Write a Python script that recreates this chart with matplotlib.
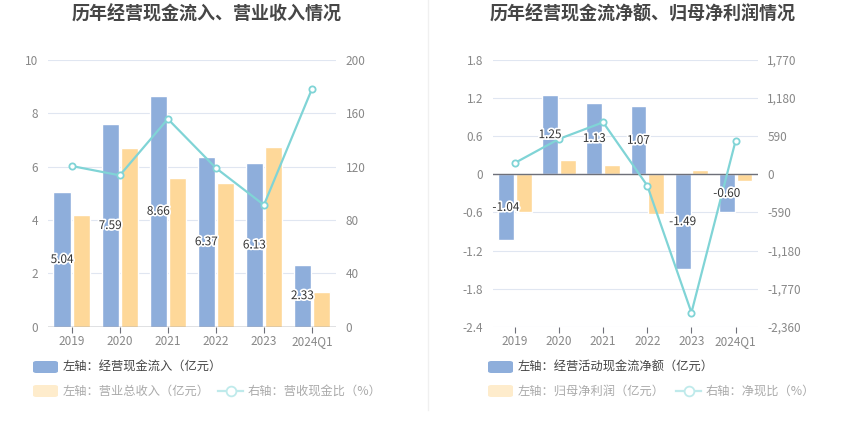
import matplotlib
matplotlib.use("Agg")
import matplotlib.pyplot as plt
import matplotlib.patheffects as pe
from matplotlib.lines import Line2D
from matplotlib.patches import FancyBboxPatch
from matplotlib.ticker import FuncFormatter

plt.rcParams["font.family"] = ["Noto Sans CJK SC", "DejaVu Sans"]

categories = ["2019", "2020", "2021", "2022", "2023", "2024Q1"]

# left chart
cash_inflow = [5.04, 7.59, 8.66, 6.37, 6.13, 2.33]       # 亿元
revenue = [4.19, 6.71, 5.58, 5.38, 6.73, 1.31]           # 亿元
cash_revenue_ratio = [120.5, 113.5, 155.8, 119.0, 91.3, 178.3]  # %

# right chart
op_cash_net = [-1.04, 1.25, 1.13, 1.07, -1.49, -0.60]    # 亿元
net_profit = [-0.59, 0.23, 0.14, -0.62, 0.07, -0.11]     # 亿元
cash_profit_ratio = [175, 547, 805, -175, -2142, 521]    # %

BLUE = "#8eaedb"
ORANGE = "#fed899"
TEAL = "#80d4d6"
GRID = "#e0e6f1"
AXIS = "#6e7079"
TICK = "#888888"
W, H = 850, 437


def px_axes(fig, x0, x1, y_top, y_bot):
    return fig.add_axes([x0 / W, 1 - y_bot / H, (x1 - x0) / W, (y_bot - y_top) / H])


def style(ax, ax2, ylim, yticks, ylim2, yticks2, fmt2):
    ax.set_xlim(-0.5, len(categories) - 0.5)
    ax.set_ylim(*ylim)
    ax.set_yticks(yticks)
    ax2.set_ylim(*ylim2)
    ax2.set_yticks(yticks2)
    ax2.yaxis.set_major_formatter(FuncFormatter(fmt2))
    ax.yaxis.set_major_formatter(FuncFormatter(lambda v, p: f"{v:g}"))
    ax.grid(axis="y", color=GRID, linewidth=0.8)
    ax.set_axisbelow(True)
    for a in (ax, ax2):
        for s in a.spines.values():
            s.set_visible(False)
        a.tick_params(axis="y", length=0, labelsize=8.5, labelcolor=TICK, pad=7)
    ax.set_xticks(range(len(categories)))
    ax.set_xticklabels(categories)
    ax.tick_params(axis="x", length=4, color=AXIS, labelsize=8.5, labelcolor=TICK, pad=2)
    ax.axhline(0, color=AXIS, linewidth=1, zorder=3)


def bar_labels(ax, top, x, vals):
    # labels live on the twin axes (drawn above the line) but use left-axis data coords
    for xi, v in zip(x, vals):
        top.text(xi, v / 2, f"{v:.2f}", ha="center", va="center", fontsize=8.5,
                 color="#333333", zorder=6, transform=ax.transData,
                 path_effects=[pe.withStroke(linewidth=2.5, foreground="white")])


fig = plt.figure(figsize=(W / 100, H / 100), dpi=100)
x = list(range(len(categories)))
xb = [i - 0.2 for i in x]
xo = [i + 0.2 for i in x]

# ---- left chart
ax = px_axes(fig, 47.7, 336, 60, 326.7)
ax2 = ax.twinx()
ax.bar(xb, cash_inflow, width=0.36, color=BLUE, edgecolor="white", linewidth=1, zorder=2)
ax.bar(xo, revenue, width=0.36, color=ORANGE, edgecolor="white", linewidth=1, zorder=2)
ax2.plot(x, cash_revenue_ratio, color=TEAL, linewidth=1.6, marker="o", markersize=4.5,
         markerfacecolor="white", markeredgecolor=TEAL, markeredgewidth=1.3, zorder=5)
style(ax, ax2, (0, 10), range(0, 11, 2), (0, 200), range(0, 201, 40), lambda v, p: f"{v:g}")
bar_labels(ax, ax2, xb, cash_inflow)

# ---- right chart
bx = px_axes(fig, 492.7, 757.7, 60, 326.7)
bx2 = bx.twinx()
bx.bar(xb, op_cash_net, width=0.36, color=BLUE, edgecolor="white", linewidth=1, zorder=2)
bx.bar(xo, net_profit, width=0.36, color=ORANGE, edgecolor="white", linewidth=1, zorder=2)
bx2.plot(x, cash_profit_ratio, color=TEAL, linewidth=1.6, marker="o", markersize=4.5,
         markerfacecolor="white", markeredgecolor=TEAL, markeredgewidth=1.3, zorder=5)
style(bx, bx2, (-2.4, 1.8), [-2.4, -1.8, -1.2, -0.6, 0, 0.6, 1.2, 1.8],
      (-2360, 1770), range(-2360, 1771, 590), lambda v, p: f"{v:,.0f}")
bar_labels(bx, bx2, xb, op_cash_net)

# titles
fig.text(207 / W, 1 - 14 / H, "历年经营现金流入、营业收入情况", ha="center", va="center",
         fontsize=13, fontweight="bold", color="#464646")
fig.text(643 / W, 1 - 14 / H, "历年经营现金流净额、归母净利润情况", ha="center", va="center",
         fontsize=13, fontweight="bold", color="#464646")

# divider
fig.add_artist(Line2D([428 / W, 428 / W], [1 - 410 / H, 1.0], color="#f0f0f0", linewidth=1))


# legends
def legend_patch(xp, yc, color, label, tcolor):
    fig.add_artist(FancyBboxPatch((xp / W, 1 - (yc + 6) / H), 25 / W, 12 / H,
                                  boxstyle="round,pad=0,rounding_size=0.004",
                                  facecolor=color, edgecolor="none", transform=fig.transFigure))
    fig.text((xp + 30) / W, 1 - yc / H, label, ha="left", va="center", fontsize=8.8, color=tcolor)


def legend_line(xp, yc, label, tcolor):
    yy = 1 - yc / H
    fig.add_artist(Line2D([xp / W, (xp + 25) / W], [yy, yy], color="#bfeaeb", linewidth=1.6))
    fig.add_artist(Line2D([(xp + 12.5) / W], [yy], marker="o", markersize=7,
                          markerfacecolor="white", markeredgecolor="#bfeaeb", markeredgewidth=1.3))
    fig.text((xp + 30) / W, 1 - yc / H, label, ha="left", va="center", fontsize=8.8, color=tcolor)


legend_patch(33, 367, BLUE, "左轴：经营现金流入（亿元）", "#444444")
legend_patch(33, 391, "#feeccc", "左轴：营业总收入（亿元）", "#aaaaaa")
legend_line(218, 391, "右轴：营收现金比（%）", "#aaaaaa")

legend_patch(488, 367, BLUE, "左轴：经营活动现金流净额（亿元）", "#444444")
legend_patch(488, 391, "#feeccc", "左轴：归母净利润（亿元）", "#aaaaaa")
legend_line(676, 391, "右轴：净现比（%）", "#aaaaaa")

fig.savefig("out.png", dpi=100, facecolor="white")
